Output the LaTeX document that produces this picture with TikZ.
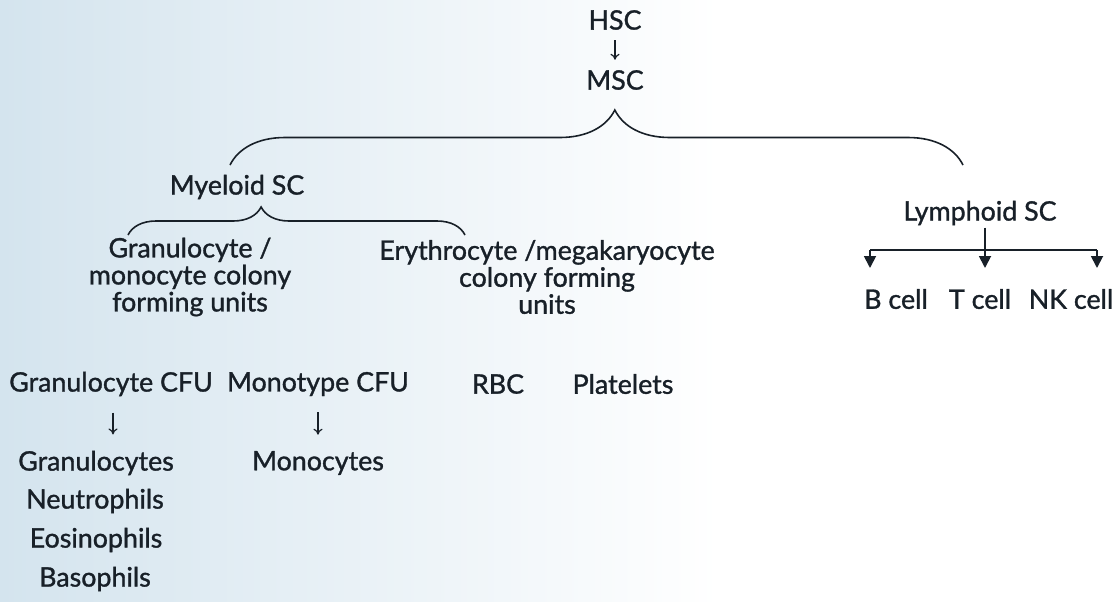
\documentclass[tikz,border=0pt]{standalone}
\usepackage{fontspec}
\setmainfont{Lato}
\newfontfamily\labelfont[FakeBold=1.2]{Lato}
\usetikzlibrary{arrows.meta,decorations.pathreplacing,positioning,calc}
\definecolor{inkdark}{RGB}{24,32,40}
\definecolor{pagetint}{RGB}{212,228,238}
\tikzset{
  cell/.style={text=inkdark,font=\labelfont\fontsize{13.4}{13.5}\selectfont,inner sep=1pt,align=center},
  thinarrow/.style={draw=inkdark,line width=0.6pt,-{To[length=3pt,width=4.5pt]}},
  branch/.style={draw=inkdark,line width=0.9pt,-{Triangle[length=6pt,width=6pt]}},
  curly/.style={draw=inkdark,line width=0.8pt,decorate,
    decoration={brace,amplitude=#1}}
}
\begin{document}
\begin{tikzpicture}[x=0.5pt,y=-0.5pt]
\useasboundingbox (0,0) rectangle (1120,601);
\shade[left color=pagetint,right color=white] (0,0) rectangle (720,601);
% stem cells
\node[cell] (hsc) at (615,20) {HSC};
\node[cell] (msc) at (615,80) {MSC};
\draw[thinarrow,shorten <=4pt,shorten >=4pt] (hsc) -- (msc);
\node[cell] (myeloid) at (237,187) {Myeloid SC};
\node[cell] (lymphoid) at (980,213) {Lymphoid SC};
\coordinate (bigL) at (230,165);
\coordinate (bigR) at (963,165);
\draw[curly=27.5pt,decoration={aspect=0.525}] (bigL) -- (bigR);
% myeloid branch
\coordinate (smallL) at (128,235);
\coordinate (smallR) at (465,235);
\draw[curly=14pt,decoration={aspect=0.395}] (smallL) -- (smallR);
\node[cell] (gmcfu) at (190,277) {Granulocyte /\\monocyte colony\\forming units};
\node[cell] (emcfu) at (547,277) {Erythrocyte /megakaryocyte\\colony forming\\units};
\node[cell] (gcfu) at (111,384) {Granulocyte CFU};
\node[cell] (mcfu) at (318,384) {Monotype CFU};
\node[cell] (rbc) at (498,384) {RBC};
\node[cell] (plt) at (623,384) {Platelets};
\node[cell] (gran) at (96,463) {Granulocytes};
\node[cell] (mono) at (318,463) {Monocytes};
\node[cell] (neut) at (95,501) {Neutrophils};
\node[cell] (eos) at (96,540) {Eosinophils};
\node[cell] (baso) at (95,579) {Basophils};
\draw[thinarrow,shorten <=7pt,shorten >=7pt] (gcfu.south -| 113,0) -- (gran.north -| 113,0);
\draw[thinarrow,shorten <=7pt,shorten >=7pt] (mcfu) -- (mono);
% lymphoid branch
\node[cell] (bcell) at (896,299) {B cell};
\node[cell] (tcell) at (980,299) {T cell};
\node[cell] (nkcell) at (1071,299) {NK cell};
\coordinate (split) at (985,250);
\coordinate (bTip) at (870,268);
\coordinate (tTip) at (985,268);
\coordinate (nkTip) at (1097,268);
\draw[inkdark,line width=0.9pt] (bTip |- split) -- (nkTip |- split);
\draw[branch] (lymphoid.south -| split) -- (tTip);
\draw[branch] (bTip |- split) -- (bTip);
\draw[branch] (nkTip |- split) -- (nkTip);
\end{tikzpicture}
\end{document}
